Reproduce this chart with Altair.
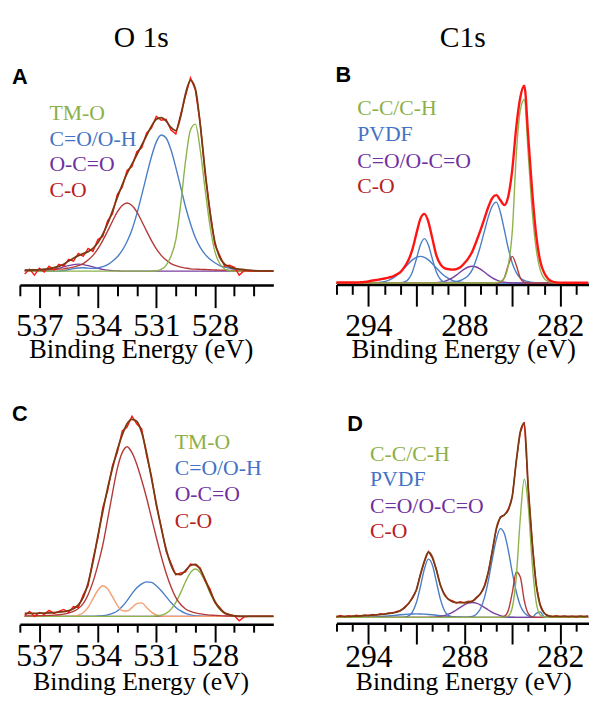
import altair as alt
import numpy as np
import pandas as pd

# ---------------- energy grids (binding energy, eV) ----------------
E_O1S = np.round(537.75 - 0.25 * np.arange(52), 2).tolist()   # 537.75 ... 525.00
E_C1S = np.round(296.0 - 0.25 * np.arange(64), 2).tolist()    # 296.00 ... 280.25

# ---------------- Panel A : O 1s ----------------
A_TMO = [0,0,0,0, 0,0,0,0, 0,0,0,0, 0,0,0,0, 0,0,0,0, 0,0,0,0, 0,0,0,0.4,
         1.7,5.9,15,32, 68,112,143,149, 123,83,46,20, 7.5,2.2,0.5,0, 0,0,0,0, 0,0,0,0]
A_COOH = [0,0,0,0, 0,0,0,0, 0.5,1.5,2.5,3.2, 3.4,3,2.8,3.2, 4.5,6.5,10,14.5, 21,30,42,58,
          77,97,116,131, 138,135,123,105, 85,65,48,34, 24,17,12,8.5, 5.5,4,3,2, 1.5,1,0.5,0.2, 0,0,0,0]
A_OCO = [0,0,0,0.2, 0.45,0.95,1.75,2.9, 4.2,5.6,6.6,7, 6.6,5.6,4.2,2.9, 1.75,0.95,0.45,0.2,
         0,0,0,0, 0,0,0,0, 0,0,0,0, 0,0,0,0, 0,0,0,0, 0,0,0,0, 0,0,0,0, 0,0,0,0]
A_CO = [1,1,1.2,1.3, 1.4,1.6,1.8,2, 2.3,3.1,4,5.5, 7.7,11.2,16,22.6, 31,40.5,50.6,60,
        66.5,69,66.5,60, 50.6,40.5,31,22.6, 16,11.2,7.7,5.5, 4,3.1,2.3,2, 1.8,1.6,1.4,1.2,
        1,0.9,0.8,0.7, 0.6,0.5,0.4,0.3, 0.3,0.2,0.2,0.1]
A_ENV = [1,1,1.2,1.5, 1.9,2.6,3.6,4.9, 7,10.2,13.1,15.7, 17.7,19.8,23,28.7, 37.3,48,61,74.7,
         87.5,99,108.5,118, 127.6,137.5,147,154, 155.7,152.1,145.7,142.5, 157,180.1,193.3,185,
         148.8,101.6,59.4,29.7, 14,7.1,4.3,2.7, 2.1,1.5,0.9,0.5, 0.3,0.2,0.2,0.1]
A_RAW = [-3,2,-4,3, -1,5,1,7, 5,12,10,18, 15,23,20,32, 35,51,58,78, 85,102,106,121,
         125,140,145,157, 153,154,143,139, 159,178,196,184, 150,99,62,27, 16,5,6,4,
         -4,0.5,0,0, 0,0,0,0]

# ---------------- Panel C : O 1s ----------------
C_TMO = [0]*24 + [0,0,0,0.4, 1.2,3.1,7.1,14.2, 24.1,35.4,44.4,48, 44.4,35.4,24.1,14.2,
                  7.1,3.1,1.2,0.4, 0,0,0,0, 0,0,0,0]
C_COOH = [0]*12 + [0,0,0,0.3, 0.7,1.5,3,5.5, 10,16,23,29, 33,35,34.5,31, 26,20,14,9,
                   5.5,3,1.5,0.7, 0.3,0,0,0] + [0]*12
C_EXTRA = [0]*8 + [0,0,0.3,1.2, 3.7,9.2,17.7,26.5, 31,28,20,11.2, 5.9,5.4,8.9,12.9,
                   13.7,9.1,4.3,1.4, 0.3,0,0,0] + [0]*20
C_OCO = [0]*52
C_CO = [0.5,0.5,0.6,0.7, 0.8,1,1.3,1.7, 2.3,3.3,5,8, 13,22,35,52, 72,98,125,150,
        166,172,166,154, 138,120,100,80, 61,44,30,19, 12,7.5,5,3.5, 2.5,1.8,1.3,1,
        0.7,0.5,0.3,0.2, 0.1,0,0,0, 0,0,0,0]
C_ENV = [3,3,3.1,3.2, 3.3,3.5,3.8,4.2, 4.8,5.8,7.8,11.7, 19.2,33.7,55.2,81.3,
         106.1,129.8,150.2,168.8, 183.9,195.3,199.7,197.6, 186.3,165.6,140.2,114.1,
         89.7,68.2,52.1,43.1, 42.4,46.6,51.5,52.7, 47.6,37.5,25.6,15.3, 7.8,3.6,1.5,0.6,
         0.1,0,0,0, 0,0,0,0]
C_RAW = [1,5,0,4, 2,6,3,5, 7,4,10,9, 22,31,58,79, 110,127,153,166, 188,192,203,195,
         190,163,142,112, 91,66,54,42, 44,45,53,52, 49,36,28,14, 9,3,2,0.5,
         -4.5,-0.5,0,0, 0,0,0,0]

# ---------------- Panel B : C 1s ----------------
B_PVDF1 = [0]*16 + [0.2,1,3.8,11.2, 24.3,38.6,45,38.6, 24.3,11.2,3.8,1, 0.5,0.9,1.5,2.5,
                    4.5,7.5,13.5,24, 37,52,67,78, 82,72,54,35, 20,10.5,5,2.5, 1.2,0.6,0.3,0] + [0]*12
B_PVDF2 = [0]*8 + [0,0.1,0.35,0.7, 1.4,2.7,4.6,7.3, 10.9,15.1,19.5,23.4, 26,27,26,23.4,
                   19.5,15.1,10.9,7.3, 4.6,2.7,1.4,0.7, 0.35,0.1,0,0] + [0]*28
B_OCO = [0]*24 + [0.15,0.36,0.8,1.65, 3.1,5.2,7.9,11.1, 14,16.2,17,16.2, 14,11.1,7.9,5.2,
                  3.1,1.65,0.8,0.36, 0.15,0,0,0] + [0]*16
B_CO = [0]*40 + [0,0.7,5.2,17.9, 27,17.9,5.2,0.7] + [0]*16
B_CC = [0]*40 + [0.5,1.5,5,18, 52,130,175,186, 130,72,34,13, 4.5,1.5,0.5,0] + [0]*8
B_ENV = [0.5,0.5,0.5,0.5, 0.5,0.5,0.7,1, 1.5,2.5,3,3.8, 4.5,5.5,6.5,8.5, 11,16,23,34,
         50,65,70,62, 45,28,19,15, 14,13.5,14,16, 20,25,32,42, 53,65,77,86, 89,84,79,88,
         115,158,188,200, 148,92,48,22, 10,4,1.5,0.5, 0.3,0.2,0.2,0.2, 0.2,0.2,0.2,0.2]

# ---------------- Panel D : C 1s ----------------
D_PVDF1 = [0]*16 + [0,0.3,1.5,5.4, 15,31,49,59, 53,36,18.5,7, 2,0.5,0,0, 0,0.2,0.9,3.2,
                    8.5,19.5,37,59, 79,90,85,68, 45.5,26,12,4.8, 1.6,0.4,4,5.5, 0.5,0,0,0] + [0]*8
D_PVDF2 = [0,0,0,0, 0,0,0,0.15, 0.25,0.37,0.55,0.78, 1.07,1.4,1.8,2.2, 2.6,2.96,3.25,3.44,
           3.5,3.44,3.25,2.96, 2.6,2.2,1.8,1.4, 1.07,0.78,0.55,0.37, 0.25,0.15,0.1,0] + [0]*28
D_OCO = [0]*24 + [0.2,0.45,0.9,1.8, 3.2,5.1,7.5,10.2, 12.6,14.4,15,14.4, 12.6,10.2,7.5,5.1,
                  3.2,1.8,0.9,0.45, 0.2,0,0,0] + [0]*16
D_CO = [0]*40 + [0,0,1,7, 25,46,41,17, 3.8,0.4,0,0] + [0]*12
D_CC = [0]*40 + [0,0,0.2,1.4, 10,41,100,140, 113,54,15,2.4, 0.3,0,0,0] + [0]*8
D_ENV = [1,1,1,1, 1.2,1.3,1.5,1.8, 2,2.3,2.6,2.9, 3.2,3.8,4.5,5.2, 7,9.5,14,19.5,
         28,43,57,66, 61,48,33,23, 18.5,16,15,15, 15,15.5,16.5,19.5, 24,31,46,67,
         90,101,104,109, 123,158,188,197, 131,75,33,12, 4.5,1.5,1,1, 1,1,1,1, 1,1,1,1]
D_RAW = [0.5,2,0.5,1.8, 1,2.2,1,2.5, 1.5,3,2.2,3.8, 3,4.5,4,6, 6.5,10.5,13.5,20.5,
         27.5,44,56,67, 60,49,32,24, 18,17,14.5,16, 14.5,16.5,16,20.5, 23.5,32,45.5,68,
         89,102,103.5,110, 122,159,187,198, 130,76,32.5,13, 4,2,0.5,1.8, 0.5,1.5,0.5,1.2,
         0.3,1.5,0.5,1.5]

# ---------------- labels ----------------
O1S_LABELS = ["TM-O", "C=O/O-H", "O-C=O", "C-O"]
C1S_LABELS = ["C-C/C-H", "PVDF", "C=O/O-C=O", "C-O"]
O1S_TICKS = list(range(526, 539))
C1S_TICKS = list(range(281, 297))

# ---------------- styles ----------------
GREEN, BLUE, PURPLE, CORED = "#8db34a", "#4a7ec6", "#7a3fa0", "#b43a3a"
BROWN, RED, ORANGE = "#7a3a12", "#ff1414", "#f4a070"
T_GREEN, T_BLUE, T_PURPLE, T_RED = "#8cb048", "#4472c4", "#7030a0", "#b8201e"
SERIF, SANS = "Liberation Serif", "Liberation Sans"
W, H = 589, 690


def xaxis(label_mod, long_tick, short_tick, pad, offset, values):
    return alt.Axis(
        values=values, orient="bottom", offset=offset, grid=False, title=None,
        domainColor="black", domainWidth=2.5, tickColor="black", tickWidth=2,
        tickSize={"condition": {"test": "datum.value % 3 === 0", "value": long_tick},
                  "value": short_tick},
        labelExpr=f"datum.value % {label_mod} === 0 ? datum.label : ''",
        format="d", labelFont=SERIF, labelFontSize=32, labelColor="black",
        labelPadding=pad, labelBaseline="alphabetic", labelOverlap=False,
        labelFlush=False, labelBound=False,
    )


def panel(E, series, xdom, xrange, base, axis):
    xs = alt.Scale(domain=xdom, range=xrange, nice=False, zero=False)
    ys = alt.Scale(domain=[0, 200], range=[base, base - 200], nice=False, zero=False)
    layers = []
    for vals, color, width, interp in series:
        df = pd.DataFrame({"E": E, "I": vals})
        layers.append(
            alt.Chart(df).mark_line(color=color, strokeWidth=width, interpolate=interp)
            .encode(x=alt.X("E:Q", scale=xs, axis=axis),
                    y=alt.Y("I:Q", scale=ys, axis=None))
        )
    return alt.layer(*layers)


def txt(s, x, y, size, color="black", font=SERIF, weight="normal", align="left"):
    return alt.Chart(pd.DataFrame({"t": [s]})).mark_text(
        align=align, baseline="alphabetic", font=font, fontSize=size,
        fontWeight=weight, color=color,
    ).encode(x=alt.value(x), y=alt.value(y), text="t:N")


pA = panel(E_O1S, [
    (A_OCO, PURPLE, 1.3, "monotone"), (A_COOH, BLUE, 1.4, "monotone"),
    (A_CO, CORED, 1.4, "monotone"), (A_TMO, GREEN, 1.4, "monotone"),
    (A_RAW, RED, 1.4, "linear"), (A_ENV, BROWN, 1.8, "monotone"),
], [538, 525], [12, 269], 262, xaxis(3, 23, 11, 28, 276 - H, O1S_TICKS))

pC = panel(E_O1S, [
    (C_OCO, PURPLE, 1.3, "monotone"), (C_COOH, BLUE, 1.4, "monotone"),
    (C_EXTRA, ORANGE, 1.4, "monotone"), (C_TMO, GREEN, 1.4, "monotone"),
    (C_CO, CORED, 1.4, "monotone"),
    (C_RAW, RED, 1.4, "linear"), (C_ENV, BROWN, 1.8, "monotone"),
], [538, 525], [12, 269], 612, xaxis(3, 18, 8, 24, 620 - H, O1S_TICKS))

pB = panel(E_C1S, [
    (B_PVDF2, BLUE, 1.4, "monotone"), (B_OCO, PURPLE, 1.4, "monotone"),
    (B_PVDF1, BLUE, 1.4, "monotone"), (B_CO, CORED, 1.4, "monotone"),
    (B_CC, GREEN, 1.4, "monotone"), (B_ENV, RED, 2.4, "monotone"),
], [296, 280.2], [333, 589], 274, xaxis(6, 22, 10, 29.5, 275.5 - H, C1S_TICKS))

pD = panel(E_C1S, [
    (D_PVDF2, BLUE, 1.4, "monotone"), (D_OCO, PURPLE, 1.4, "monotone"),
    (D_PVDF1, BLUE, 1.4, "monotone"), (D_CO, CORED, 1.4, "monotone"),
    (D_CC, GREEN, 1.4, "monotone"),
    (D_RAW, RED, 1.2, "linear"), (D_ENV, BROWN, 1.8, "monotone"),
], [296, 280.2], [333, 589], 613, xaxis(6, 21, 8, 23, 619 - H, C1S_TICKS))

texts = [
    txt("O 1s", 135, 35, 30, align="center"),
    txt("C1s", 461, 35, 30, align="center"),
    txt("A", 4, 72, 22, font=SANS, weight="bold"),
    txt("B", 332, 70, 22, font=SANS, weight="bold"),
    txt("C", 4, 414, 22, font=SANS, weight="bold"),
    txt("D", 344, 424, 22, font=SANS, weight="bold"),
    txt("Binding Energy (eV)", 135, 350, 27, align="center"),
    txt("Binding Energy (eV)", 462, 350, 27, align="center"),
    txt("Binding Energy (eV)", 135, 687, 26, align="center"),
    txt("Binding Energy (eV)", 462, 687, 26, align="center"),
]
tcols = [T_GREEN, T_BLUE, T_PURPLE, T_RED]
for lx, ys, labs in [(42, [109, 135, 161, 187], O1S_LABELS),
                     (354, [104, 130, 157, 183], C1S_LABELS),
                     (169, [442, 469, 495, 522], O1S_LABELS),
                     (367, [454, 480, 507, 533], C1S_LABELS)]:
    for lab, yy, cc in zip(labs, ys, tcols):
        texts.append(txt(lab, lx, yy, 22, color=cc))

chart = (
    alt.layer(pA, pB, pC, pD, *texts)
    .resolve_scale(x="independent", y="independent")
    .resolve_axis(x="independent", y="independent")
    .properties(width=W, height=H, padding=0, autosize=alt.AutoSizeParams(type="none"))
    .configure_view(stroke=None)
)

chart.save("out.html", embed_options={"renderer": "svg", "actions": False})
